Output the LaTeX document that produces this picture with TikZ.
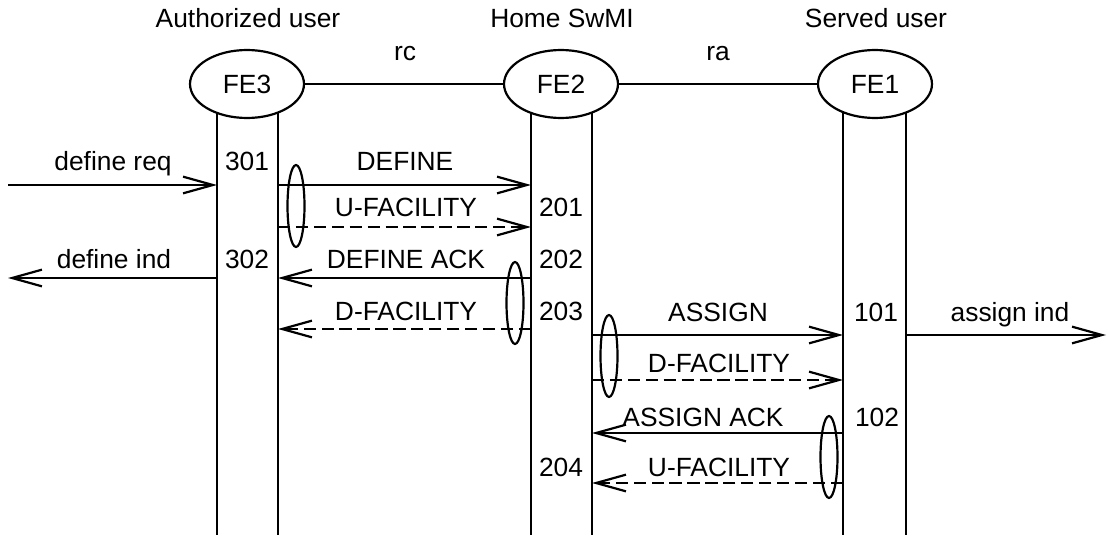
\documentclass[tikz,border=0pt]{standalone}
\usepackage{fontspec}
\setmainfont{Liberation Sans}
\usetikzlibrary{arrows.meta,shapes.geometric}
\tikzset{
  fe/.style={draw,ellipse,line width=1.25pt,minimum width=2.28cm,minimum height=1.36cm,inner sep=0pt,
    font=\fontsize{15}{18}\selectfont},
  grp/.style={draw,ellipse,line width=1.25pt,minimum width=0.34cm,minimum height=1.64cm,inner sep=0pt},
  life/.style={line width=1.25pt},
  msg/.style={line width=1.25pt,-{Straight Barb[length=17pt,width=9.5pt]}},
  rsp/.style={msg,dash pattern=on 7pt off 3.2pt},
  lbl/.style={anchor=base,inner sep=0pt,font=\fontsize{15}{18}\selectfont},
}

\begin{document}
\begin{tikzpicture}[x=0.02cm,y=-0.02cm]
\useasboundingbox (0,0) rectangle (1109,537);

% Functional entities and the relations between them
\node[fe] (fe3) at (247,84) {FE3};
\node[fe] (fe2) at (561,84) {FE2};
\node[fe] (fe1) at (875,84) {FE1};
\draw[life] (fe3) -- (fe2);
\draw[life] (fe2) -- (fe1);

\node[lbl] (h3) at (248,28) {Authorized user};
\node[lbl] (h2) at (562,28) {Home SwMI};
\node[lbl] (h1) at (876,28) {Served user};
\node[lbl] (rc) at (405,61) {rc};
\node[lbl] (ra) at (718,61) {ra};

% Lifelines
\coordinate (fe3l) at (217,113);
\coordinate (fe3r) at (278,113);
\coordinate (fe2l) at (531,113);
\coordinate (fe2r) at (592,113);
\coordinate (fe1l) at (843,113);
\coordinate (fe1r) at (906,113);
\foreach \c in {fe3l,fe3r,fe2l,fe2r,fe1l,fe1r}
  \draw[life] (\c) -- (\c |- 0,535);

% Message rows
\coordinate (r1) at (0,185);
\coordinate (r2) at (0,227);
\coordinate (r3) at (0,278);
\coordinate (r4) at (0,329);
\coordinate (r5) at (0,335);
\coordinate (r6) at (0,380);
\coordinate (r7) at (0,433);
\coordinate (r8) at (0,483);
\coordinate (inL) at (8,185);
\coordinate (outL) at (8,278);
\coordinate (outR) at (1106,335);

% Define phase
\draw[msg] (inL) -- (fe3l |- inL);
\draw[msg] (fe3r |- r1) -- (fe2l |- r1);
\draw[rsp] (fe3r |- r2) -- (fe2l |- r2);
\draw[msg] (fe2l |- r3) -- (fe3r |- r3);
\draw[msg] (fe3l |- outL) -- (outL);
\draw[rsp] (fe2l |- r4) -- (fe3r |- r4);

\node[lbl] (dreq) at (113,171) {define req};
\node[lbl] (dind) at (114,268) {define ind};
\node[lbl] (n301) at (247,171) {301};
\node[lbl] (n302) at (247,268) {302};
\node[lbl] (def) at (405,171) {DEFINE};
\node[lbl] (ufac1) at (406,216) {U-FACILITY};
\node[lbl] (dack) at (406,268) {DEFINE ACK};
\node[lbl] (dfac1) at (406,320) {D-FACILITY};
\node[lbl] (n201) at (561,216) {201};
\node[lbl] (n202) at (561,268) {202};
\node[lbl] (n203) at (561,320) {203};

% Assign phase
\draw[msg] (fe2r |- r5) -- (fe1l |- r5);
\draw[msg] (fe1r |- outR) -- (outR);
\draw[rsp] (fe2r |- r6) -- (fe1l |- r6);
\draw[msg] (fe1l |- r7) -- (fe2r |- r7);
\draw[rsp] (fe1l |- r8) -- (fe2r |- r8);

\node[lbl] (asg) at (718,321) {ASSIGN};
\node[lbl] (dfac2) at (719,372) {D-FACILITY};
\node[lbl] (aack) at (703,426) {ASSIGN ACK};
\node[lbl] (ufac2) at (719,476) {U-FACILITY};
\node[lbl] (n101) at (876,321) {101};
\node[lbl] (n102) at (877,426) {102};
\node[lbl] (n204) at (561,476) {204};
\node[lbl] (aind) at (1010,321) {assign ind};

% Grouping ellipses
\node[grp] (g1) at (296,206) {};
\node[grp] (g2) at (515,303) {};
\node[grp] (g3) at (609,356) {};
\node[grp] (g4) at (829,457) {};

\end{tikzpicture}
\end{document}
